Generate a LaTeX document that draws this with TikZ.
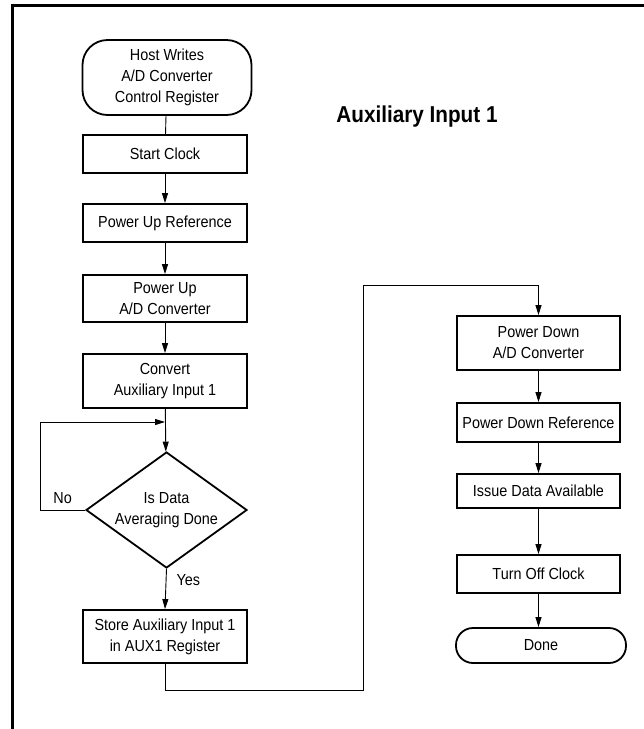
\documentclass[tikz,border=0pt]{standalone}
\usepackage{fontspec}
\setmainfont{Liberation Sans}[FakeStretch=0.9]
\usepackage{tikz}
\usetikzlibrary{arrows.meta, shapes.geometric, positioning, calc}

\tikzset{
  stepbox/.style={draw, line width=1.8pt, minimum width=164pt, align=center,
    inner sep=0pt, font=\fontsize{16}{21}\selectfont},
  endbox/.style={stepbox, rounded corners=17pt},
  decide/.style={draw, diamond, aspect=1.4, line width=1.8pt, minimum width=161pt,
    minimum height=116pt, align=center, inner sep=0pt, font=\fontsize{16}{21}\selectfont},
  flow/.style={line width=0.9pt, -{Triangle[length=10pt,width=6pt]}},
  link/.style={line width=0.9pt},
  lbl/.style={inner sep=0pt, font=\fontsize{16}{21}\selectfont}
}

\begin{document}
\begin{tikzpicture}[x=1pt,y=-1pt]
        \useasboundingbox (0,0) rectangle (644,729);
        % frame
        \draw[line width=2.5pt] (12.5,729) -- (12.5,5.5) -- (644,5.5);

        \node[font=\bfseries\fontsize{23}{28}\selectfont] (title) at (417,117) {Auxiliary Input 1};

        % left column
        \node[endbox, rounded corners=25pt, minimum width=169pt, minimum height=75pt] (host) at (167,77.5)
            {Host Writes\\A/D Converter\\Control Register};
        \node[stepbox, minimum height=38pt] (clock) at (165,154) {Start Clock};
        \node[stepbox, minimum height=38pt] (pref) at (165,223) {Power Up Reference};
        \node[stepbox, minimum height=47pt] (padc) at (165,298.5) {Power Up\\A/D Converter};
        \node[stepbox, minimum height=54pt] (conv) at (165,381) {Convert\\Auxiliary Input 1};
        \node[decide] (avg) at (166.5,510) {Is Data\\Averaging Done};
        \node[stepbox, minimum height=53pt] (store) at (165,636.5) {Store Auxiliary Input 1\\in AUX1 Register};

        % right column
        \node[stepbox, minimum width=163pt, minimum height=54pt] (dadc) at (538.5,343) {Power Down\\A/D Converter};
        \node[stepbox, minimum width=163pt, minimum height=39pt] (dref) at (538.5,422.5) {Power Down Reference};
        \node[stepbox, minimum width=163pt, minimum height=34pt] (issue) at (538.5,491) {Issue Data Available};
        \node[stepbox, minimum width=163pt, minimum height=38pt] (off) at (538.5,574) {Turn Off Clock};
        \node[endbox, minimum width=170pt, minimum height=35pt] (done) at (541,645.5) {Done};

        \coordinate (join) at (165,422);
        \coordinate (bend) at (363,285);

        \draw[link] (host) -- (clock);
        \draw[flow] (clock) -- (pref);
        \draw[flow] (pref) -- (padc);
        \draw[flow] (padc) -- (conv);
        \draw[flow] (conv) -- (avg);
        \draw[flow] (avg.west) -- node[lbl, midway, above=6pt] {No} ++(-45,0) |- (join);
        \draw[flow] (avg.south) -- node[lbl, pos=0.28, right=10pt] {Yes} (store.north);
        \draw[flow] (store.south) -- ++(0,27) -| (bend) -| (dadc.north);
        \draw[flow] (dadc) -- (dref);
        \draw[flow] (dref) -- (issue);
        \draw[flow] (issue) -- (off);
        \draw[flow] (off.south) -- (done.north -| off.south);
\end{tikzpicture}
\end{document}
